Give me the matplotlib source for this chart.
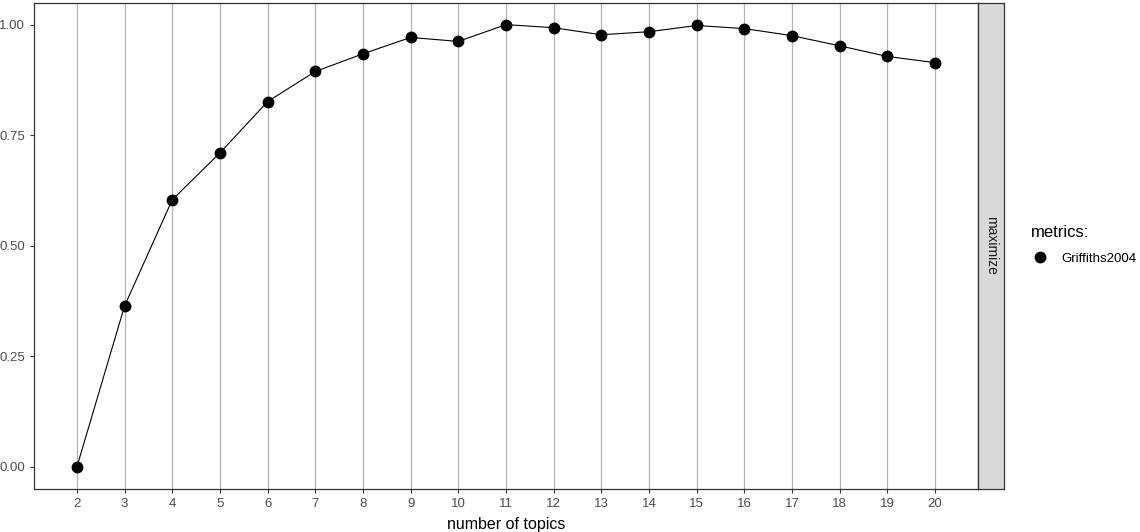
import numpy as np
import matplotlib.pyplot as plt

plt.rcParams['font.family'] = ['Liberation Sans', 'DejaVu Sans']

topics = [2, 3, 4, 5, 6, 7, 8, 9, 10, 11, 12, 13, 14, 15, 16, 17, 18, 19, 20]
griffiths = [0.0, 0.364, 0.604, 0.710, 0.826, 0.894, 0.934, 0.971, 0.962, 1.0,
             0.993, 0.977, 0.984, 0.998, 0.991, 0.975, 0.952, 0.928, 0.914]
y_ticks = [0.0, 0.25, 0.5, 0.75, 1.0]

W, H = 1140, 532
fig = plt.figure(figsize=(W / 100, H / 100), dpi=100)

# panel in pixel coords
px0, px1, py_top, py_bot = 34, 978, 2.5, 489
ax = fig.add_axes([px0 / W, 1 - py_bot / H, (px1 - px0) / W, (py_bot - py_top) / H])

ax.plot(topics, griffiths, color='black', lw=0.8, zorder=3)
ax.plot(topics, griffiths, 'o', color='black', ms=7.5, zorder=4, label='Griffiths2004')

ax.set_xlim(2 - 0.05 * 18, 20 + 0.05 * 18)
ax.set_ylim(-0.05, 1.05)
ax.set_xticks(topics)
ax.set_xticklabels([str(t) for t in topics])
ax.set_yticks(y_ticks)
ax.set_yticklabels([f'{v:.2f}' for v in y_ticks])
ax.grid(axis='x', color='#b3b3b3', lw=0.9)
ax.set_axisbelow(True)
ax.tick_params(colors='#333333', labelcolor='#4d4d4d', labelsize=9.5, length=3, width=0.8)
for s in ax.spines.values():
    s.set_color('#333333')
    s.set_linewidth(0.9)
ax.set_xlabel('number of topics', fontsize=11.5, color='black', labelpad=5)

# facet strip on the right
sx1 = 1004
sax = fig.add_axes([px1 / W, 1 - py_bot / H, (sx1 - px1) / W, (py_bot - py_top) / H])
sax.set_xticks([])
sax.set_yticks([])
sax.set_facecolor('#d9d9d9')
for s in sax.spines.values():
    s.set_color('#333333')
    s.set_linewidth(0.9)
sax.text(0.5, 0.5, 'maximize', rotation=-90, ha='center', va='center',
         fontsize=10, color='#1a1a1a', transform=sax.transAxes)

# legend
handles, labels = ax.get_legend_handles_labels()
leg = fig.legend(handles, labels, title='metrics:', loc='upper left',
                 bbox_to_anchor=(1022 / W, 1 - 216 / H), frameon=False,
                 fontsize=9.5, title_fontsize=12, alignment='left',
                 handlelength=1.3, handletextpad=1.0, borderpad=0.2,
                 labelspacing=0.5)
leg._legend_box.sep = 9

fig.savefig('out.png', dpi=100)
